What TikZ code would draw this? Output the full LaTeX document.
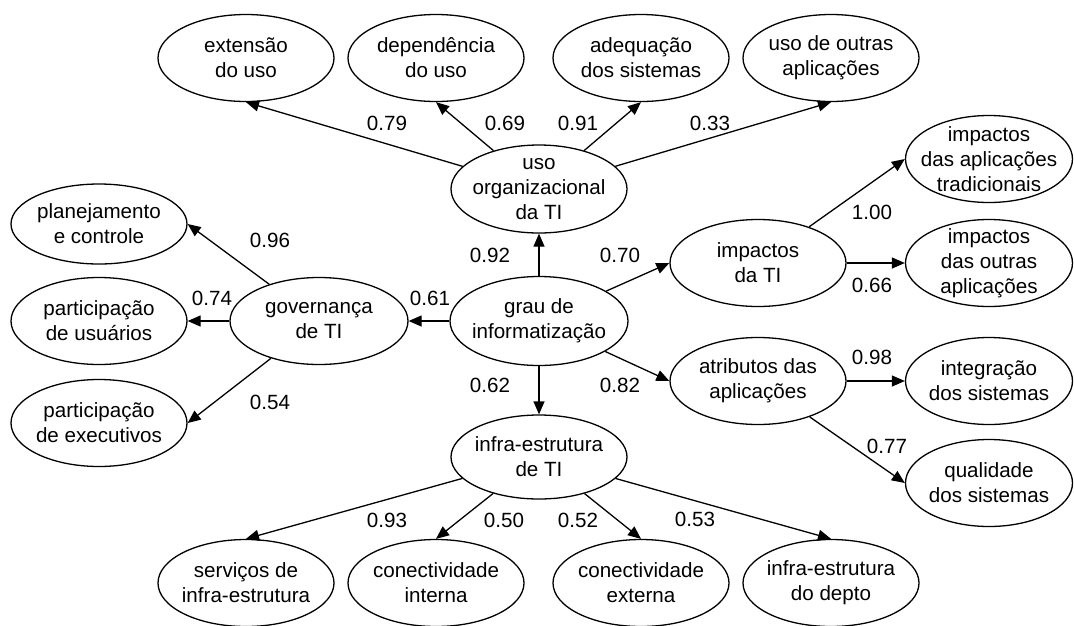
\documentclass[tikz,border=0pt]{standalone}
\usepackage{fontspec}
\setmainfont{Liberation Sans}
\usetikzlibrary{shapes.geometric,arrows.meta}
\begin{document}
\begin{tikzpicture}[x=1pt,y=-1pt,
 ell/.style={ellipse,draw,line width=1.3pt,minimum width=176pt,minimum height=87pt,inner sep=0pt},
 txt/.style={align=center,font=\fontsize{20.6}{25}\selectfont,inner sep=0pt},
 arr/.style={line width=1.3pt,-{Triangle[length=13pt,width=11pt]}},
 lab/.style={font=\fontsize{20.6}{25}\selectfont,inner sep=0pt}]
\useasboundingbox (0,0) rectangle (1074,625);
% top row
\node[ell,label={[txt]center:{extensão\\do uso}}] (ext) at (246,58) {};
\node[ell,label={[txt]center:{dependência\\do uso}}] (dep) at (436,58) {};
\node[ell,label={[txt]center:{adequação\\dos sistemas}}] (adq) at (641,58) {};
\node[ell,label={[txt]center:{uso de outras\\aplicações}}] (out) at (831,58) {};
% middle
\node[ell,minimum height=88pt,label={[txt]center:{uso\\organizacional\\da TI}}] (uso) at (539,189) {};
\node[ell,minimum width=178pt,minimum height=89pt,label={[txt]center:{grau de\\informatização}}] (grau) at (539,321) {};
\node[ell,minimum width=178pt,label={[txt]center:{governança\\de TI}}] (gov) at (319,321) {};
\node[ell,minimum height=80pt,label={[txt]center:{planejamento\\e controle}}] (plan) at (99,224) {};
\node[ell,label={[txt]center:{participação\\de usuários}}] (usu) at (99,321) {};
\node[ell,label={[txt]center:{participação\\de executivos}}] (exe) at (99,423) {};
\node[ell,label={[txt]center:{impactos\\da TI}}] (imp) at (758,263) {};
\node[ell,label={[txt]center:{atributos das\\aplicações}}] (atr) at (758,381) {};
\node[ell,minimum width=167pt,label={[txt]center:{impactos\\das aplicações\\tradicionais}}] (trad) at (989,159) {};
\node[ell,minimum width=167pt,label={[txt]center:{impactos\\das outras\\aplicações}}] (outr) at (989,263) {};
\node[ell,minimum width=167pt,label={[txt]center:{integração\\dos sistemas}}] (integ) at (989,381) {};
\node[ell,minimum width=167pt,label={[txt]center:{qualidade\\dos sistemas}}] (qual) at (989,483) {};
\node[ell,minimum height=84pt,label={[txt]center:{infra-estrutura\\de TI}}] (infra) at (539,457) {};
% bottom row
\node[ell,label={[txt]center:{serviços de\\infra-estrutura}}] (serv) at (246,583) {};
\node[ell,label={[txt]center:{conectividade\\interna}}] (cint) at (436,583) {};
\node[ell,label={[txt]center:{conectividade\\externa}}] (cext) at (641,583) {};
\node[ell,label={[txt]center:{infra-estrutura\\do depto}}] (dept) at (831,583) {};
% connectors
\draw[arr] (uso) -- (ext.south);
\draw[arr] (uso) -- (dep.south);
\draw[arr] (uso) -- (adq.south);
\draw[arr] (uso) -- (out.south);
\draw[arr] (grau) -- (uso);
\draw[arr] (grau) -- (infra);
\draw[arr] (grau) -- (gov);
\draw[arr] (grau) -- (imp.west);
\draw[arr] (grau) -- (atr.west);
\draw[arr] (gov) -- (plan.east);
\draw[arr] (gov) -- (usu);
\draw[arr] (gov) -- (exe.east);
\draw[arr] (imp) -- (trad.west);
\draw[arr] (imp) -- (outr);
\draw[arr] (atr) -- (integ);
\draw[arr] (atr) -- (qual.west);
\draw[arr] (infra) -- (serv.north);
\draw[arr] (infra) -- (cint.north);
\draw[arr] (infra) -- (cext.north);
\draw[arr] (infra) -- (dept.north);
% coefficients
\node[lab] (l79) at (387,123) {0.79};
\node[lab] (l69) at (505,123) {0.69};
\node[lab] (l91) at (578,123) {0.91};
\node[lab] (l33) at (710,123) {0.33};
\node[lab] (l92) at (490,255) {0.92};
\node[lab] (l70) at (620,255) {0.70};
\node[lab] (l61) at (430,298) {0.61};
\node[lab] (l62) at (490,385) {0.62};
\node[lab] (l82) at (620,385) {0.82};
\node[lab] (l96) at (270,240) {0.96};
\node[lab] (l74) at (212,298) {0.74};
\node[lab] (l54) at (270,402) {0.54};
\node[lab] (l100) at (872,212) {1.00};
\node[lab] (l66) at (872,285) {0.66};
\node[lab] (l98) at (872,357) {0.98};
\node[lab] (l77) at (887,446) {0.77};
\node[lab] (l93) at (387,520) {0.93};
\node[lab] (l50) at (504,520) {0.50};
\node[lab] (l52) at (578,520) {0.52};
\node[lab] (l53) at (695,519) {0.53};
\end{tikzpicture}
\end{document}
